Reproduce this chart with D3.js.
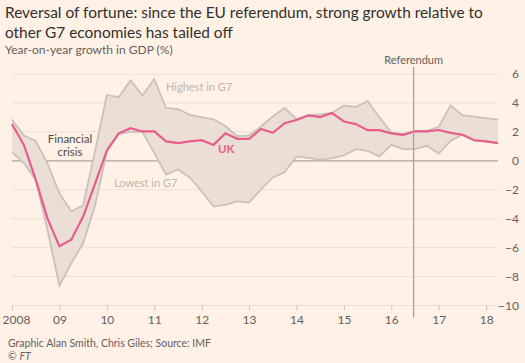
<!DOCTYPE html>
<html>
<head>
<meta charset="utf-8">
<script src="https://cdn.jsdelivr.net/npm/d3@7"></script>
<style>
  body { margin: 0; background: #fff1e5; }
  svg { display: block; font-family: Lato, "Open Sans", sans-serif; }
</style>
</head>
<body>
<div id="chart"></div>
<script>
// quarterly year-on-year GDP growth, 2008 Q1 to 2018 Q2
var startYear = 2008;
var ukGrowth = [
    2.55, 1.1, -1.3, -4.0,
    -5.9, -5.45, -3.85, -1.6,
    0.72, 1.9, 2.25, 2.03,
    2.03, 1.34, 1.22, 1.34,
    1.43, 1.1, 1.9, 1.52,
    1.52, 2.2, 1.93, 2.6,
    2.82, 3.14, 3.02, 3.3,
    2.72, 2.54, 2.12, 2.12,
    1.9, 1.8, 2.04, 2.04,
    2.13, 1.93, 1.8, 1.42,
    1.34, 1.22
];
var highestG7 = [
    2.85, 1.75, 1.38, -0.2,
    -2.24, -3.5, -3.08, 0.65,
    4.55, 4.4, 5.57, 4.52,
    5.65, 3.65, 3.58, 3.18,
    3.02, 2.87, 2.4, 1.7,
    1.75, 2.37, 3.07, 3.65,
    2.88, 3.16, 3.2, 3.32,
    3.82, 3.72, 4.13, 3.0,
    1.95, 1.85, 2.06, 2.06,
    2.35, 3.83, 3.15, 3.05,
    2.95, 2.85
];
var lowestG7 = [
    0.6, -0.15, -1.3, -4.8,
    -8.63, -7.08, -5.7, -3.1,
    0.6, 1.85, 2.0, 2.0,
    0.55, -0.95, -0.6, -1.15,
    -2.1, -3.16, -3.05, -2.8,
    -2.88, -2.0, -1.15, -0.8,
    0.3, 0.2, 0.07, 0.18,
    0.37, 0.81, 0.69, 0.3,
    1.1, 0.81, 0.81, 1.04,
    0.5, 1.38, 1.8, 1.42,
    1.34, 1.22
];
var yearTicks = [2008, 2009, 2010, 2011, 2012, 2013, 2014, 2015, 2016, 2017, 2018];
var yearLabels = ['2008', '09', '10', '11', '12', '13', '14', '15', '16', '17', '18'];
var growthTicks = [6, 4, 2, 0, -2, -4, -6, -8, -10];
var referendumDate = 2016.47;

var svgWidth = 525;
var svgHeight = 363;

var margin = { top: 74, right: 27, bottom: 57.5, left: 12 };
var width = svgWidth - margin.left - margin.right;
var height = svgHeight - margin.top - margin.bottom;

var data = ukGrowth.map(function(v, i) {
    return { date: startYear + i / 4, uk: v, hi: highestG7[i], lo: lowestG7[i] };
});

var svg = d3.select('#chart')
    .append('svg')
    .attr('width', svgWidth)
    .attr('height', svgHeight);

svg.append('rect')
    .attr('width', svgWidth)
    .attr('height', svgHeight)
    .attr('fill', '#fff1e5');

// titles - shrink the font until the first line fits the reference width
var title = svg.append('text')
    .attr('fill', '#33302e')
    .style('font-size', '17px');
var line1 = title.append('tspan').attr('x', 5).attr('y', 18)
    .text('Reversal of fortune: since the EU referendum, strong growth relative to');
title.append('tspan').attr('x', 5).attr('y', 38)
    .text('other G7 economies has tailed off');
var w1 = line1.node().getComputedTextLength();
title.style('font-size', (17 * 478 / w1).toFixed(2) + 'px');

svg.append('text')
    .attr('x', 5)
    .attr('y', 54)
    .attr('fill', '#66605c')
    .style('font-size', '12px')
    .text('Year-on-year growth in GDP (%)');

var chartGroup = svg.append('g')
    .attr('transform', `translate(${margin.left},${margin.top})`);

var xScale = d3.scaleLinear()
    .domain([2008, 2018.25])
    .range([0, width]);

var yScale = d3.scaleLinear()
    .domain([-10, 6])
    .range([height, 0]);

// grid lines
chartGroup.selectAll('.grid')
    .data(growthTicks)
    .enter()
    .append('line')
        .attr('class', 'grid')
        .attr('x1', 0)
        .attr('x2', width)
        .attr('y1', d => yScale(d))
        .attr('y2', d => yScale(d))
        .attr('stroke', d => d === 0 ? '#aaa29b' : '#ebdfd4')
        .attr('stroke-width', d => d === 0 ? 1.2 : 1);

// y axis labels on right
var rightAxis = d3.axisRight(yScale)
    .tickValues(growthTicks)
    .tickSize(0)
    .tickPadding(0);
var yAxisG = chartGroup.append('g')
    .attr('transform', `translate(${width + 21},0)`)
    .call(rightAxis);
yAxisG.select('.domain').remove();
yAxisG.selectAll('text')
    .attr('text-anchor', 'end')
    .attr('fill', '#66605c')
    .style('font-size', '12px')
    .style('font-family', 'Lato, sans-serif');

// x axis
var bottomAxis = d3.axisBottom(xScale)
    .tickValues(yearTicks)
    .tickFormat((d, i) => yearLabels[i])
    .tickSize(5)
    .tickPadding(5);
var xAxisG = chartGroup.append('g')
    .attr('transform', `translate(0,${height})`)
    .call(bottomAxis);
xAxisG.select('.domain').remove();
xAxisG.selectAll('line').attr('stroke', '#cfc4ba');
xAxisG.selectAll('text')
    .attr('fill', '#66605c')
    .style('font-size', '12px')
    .style('font-family', 'Lato, sans-serif');
xAxisG.selectAll('text').filter(d => d === 2008).attr('dx', 4);

// G7 range band
var band = d3.area()
    .x(d => xScale(d.date))
    .y0(d => yScale(d.lo))
    .y1(d => yScale(d.hi));

chartGroup.append('path')
    .datum(data)
    .attr('d', band)
    .attr('fill', '#ebdfd5');

var hiLine = d3.line().x(d => xScale(d.date)).y(d => yScale(d.hi));
var loLine = d3.line().x(d => xScale(d.date)).y(d => yScale(d.lo));
var ukLine = d3.line().x(d => xScale(d.date)).y(d => yScale(d.uk));

chartGroup.append('path')
    .datum(data)
    .attr('d', hiLine)
    .attr('fill', 'none')
    .attr('stroke', '#c9c1ba')
    .attr('stroke-width', 1.8);

chartGroup.append('path')
    .datum(data)
    .attr('d', loLine)
    .attr('fill', 'none')
    .attr('stroke', '#c9c1ba')
    .attr('stroke-width', 1.8);

chartGroup.append('path')
    .datum(data)
    .attr('d', ukLine)
    .attr('fill', 'none')
    .attr('stroke', '#e95d8c')
    .attr('stroke-width', 2.2);

// referendum marker
chartGroup.append('line')
    .attr('x1', xScale(referendumDate))
    .attr('x2', xScale(referendumDate))
    .attr('y1', -7)
    .attr('y2', height + 12)
    .attr('stroke', '#a7a09a')
    .attr('stroke-width', 1.3);

chartGroup.append('text')
    .attr('x', xScale(referendumDate))
    .attr('y', -10)
    .attr('text-anchor', 'middle')
    .attr('fill', '#66605c')
    .style('font-size', '11px')
    .text('Referendum');

// annotations
var crisis = chartGroup.append('text')
    .attr('text-anchor', 'middle')
    .attr('fill', '#4d4845')
    .style('font-size', '11.5px');
crisis.append('tspan').attr('x', 58).attr('y', 69).text('Financial');
crisis.append('tspan').attr('x', 58).attr('y', 82).text('crisis');

chartGroup.append('text')
    .attr('x', 154)
    .attr('y', 17)
    .attr('fill', '#bdb5ae')
    .style('font-size', '11px')
    .text('Highest in G7');

chartGroup.append('text')
    .attr('x', 102)
    .attr('y', 113)
    .attr('fill', '#bdb5ae')
    .style('font-size', '11px')
    .text('Lowest in G7');

chartGroup.append('text')
    .attr('x', 206)
    .attr('y', 79)
    .attr('fill', '#e95d8c')
    .style('font-size', '11.5px')
    .style('font-weight', 'bold')
    .text('UK');

// source
svg.append('text')
    .attr('x', 8)
    .attr('y', 347)
    .attr('fill', '#66605c')
    .style('font-size', '10.5px')
    .text('Graphic Alan Smith, Chris Giles; Source: IMF');

var ft = svg.append('text')
    .attr('x', 8)
    .attr('y', 360)
    .attr('fill', '#66605c')
    .style('font-size', '10.5px');
ft.append('tspan').text('© ');
ft.append('tspan').style('font-style', 'italic').text('FT');
</script>
</body>
</html>
